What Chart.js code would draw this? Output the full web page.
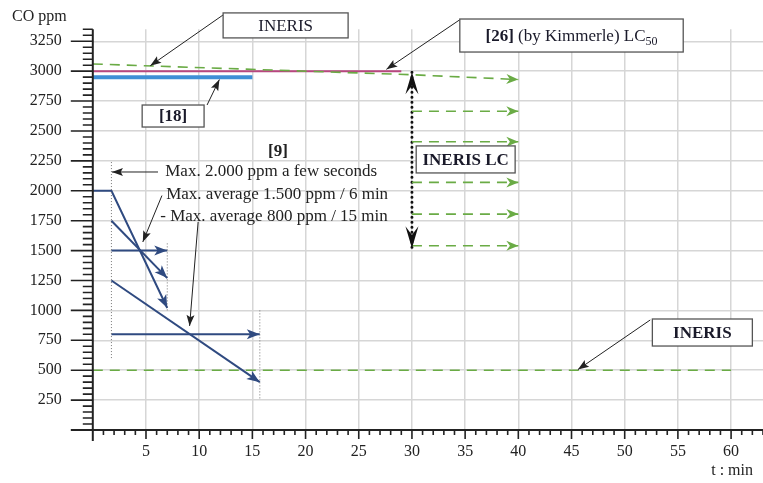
<!DOCTYPE html>
<html>
<head>
<meta charset="utf-8">
<script src="https://cdn.jsdelivr.net/npm/chart.js@4.4.0/dist/chart.umd.min.js"></script>
<style>
html, body { margin: 0; padding: 0; background: #fff; }
</style>
</head>
<body>
<canvas id="chart" width="763" height="483"></canvas>
<script>
// axis ticks
const xTicks = [5, 10, 15, 20, 25, 30, 35, 40, 45, 50, 55, 60];
const yTicks = [250, 500, 750, 1000, 1250, 1500, 1750, 2000, 2250, 2500, 2750, 3000, 3250];

// INERIS limit (top) and LC arrows, t in min, CO in ppm
const inerisTime = [0, 30, 40];
const inerisPpm = [3060, 2970, 2930];
const lcTime = [30, 40];
const lcLevels = [2665, 2410, 2070, 1805, 1540];
const lcRangeTime = [30, 30];
const lcRangePpm = [2990, 1520];

// [26] Kimmerle LC50 and [18]
const kimmerleTime = [0, 29];
const kimmerlePpm = [3000, 3000];
const ref18Time = [0, 15];
const ref18Ppm = [2950, 2950];

// INERIS low limit
const inerisLowTime = [0, 60];
const inerisLowPpm = [500, 500];

// [9] limits
const peakTime = [0, 1.75, 7];
const peakPpm = [2000, 2000, 1020];
const avg6Time = [1.75, 7];
const avg6SlopePpm = [1750, 1270];
const avg6FlatPpm = [1500, 1500];
const avg15Time = [1.75, 15.7];
const avg15SlopePpm = [1250, 400];
const avg15FlatPpm = [800, 800];

// dotted time markers
const markerTime = [1.75, 7, 15.7];
const markerTop = [2240, 1560, 1000];
const markerBottom = [585, 990, 250];

const serif = '"Liberation Serif", "Times New Roman", serif';
const green = '#6aab45';
const dark = '#2f4a80';

function series(xs, ys) {
    return xs.map((x, i) => ({x: x, y: ys[i]}));
}

const greenLine = {borderColor: green, borderWidth: 1.6, borderDash: [10, 7], arrow: 'end', head: [12, 5, 0.3, green]};
const darkLine = {borderColor: dark, borderWidth: 2, arrow: 'end', head: [13, 5, 0.25, dark]};

const datasets = [
    Object.assign({data: series(inerisTime, inerisPpm)}, greenLine),
    ...lcLevels.map(v => Object.assign({data: series(lcTime, [v, v])}, greenLine)),
    {data: series(inerisLowTime, inerisLowPpm), borderColor: green, borderWidth: 1.6, borderDash: [10, 7]},
    {data: series(kimmerleTime, kimmerlePpm), borderColor: '#b8477f', borderWidth: 2},
    {data: series(ref18Time, ref18Ppm), borderColor: '#3f8fd6', borderWidth: 4},
    ...markerTime.map((t, i) => ({data: series([t, t], [markerTop[i], markerBottom[i]]), borderColor: '#777', borderWidth: 1, borderDash: [1, 2]})),
    Object.assign({data: series(peakTime, peakPpm)}, darkLine),
    Object.assign({data: series(avg6Time, avg6SlopePpm)}, darkLine),
    Object.assign({data: series(avg6Time, avg6FlatPpm)}, darkLine),
    Object.assign({data: series(avg15Time, avg15SlopePpm)}, darkLine),
    Object.assign({data: series(avg15Time, avg15FlatPpm)}, darkLine),
    {data: series(lcRangeTime, lcRangePpm), borderColor: '#111', borderWidth: 3, borderDash: [0, 5],
        borderCapStyle: 'round', arrow: 'both', head: [22, 6.5, 0.4, '#111']},
];

// callouts, positioned in data units
const boxes = [
    {x0: 12.25, x1: 24.0, y0: 3487, y1: 3278, parts: [['INERIS', '']]},
    {x0: 34.5, x1: 55.5, y0: 3436, y1: 3160, parts: [['[26]', 'bold '], [' (by Kimmerle) LC', ''], ['50', 'sub']]},
    {x0: 4.64, x1: 10.46, y0: 2717, y1: 2533, parts: [['[18]', 'bold ']]},
    {x0: 30.4, x1: 39.7, y0: 2375, y1: 2149, parts: [['INERIS LC', 'bold ']]},
    {x0: 52.6, x1: 62.0, y0: 928, y1: 702, parts: [['INERIS', 'bold ']]},
];
const leaders = [
    [12.25, 3470, 5.4, 3045],
    [34.5, 3430, 27.6, 3015],
    [10.74, 2717, 11.9, 2930],
    [6.13, 2157, 1.8, 2157],
    [6.5, 1960, 4.7, 1572],
    [9.9, 1739, 9.1, 870],
    [52.4, 920, 45.6, 505],
];
const notes = [
    {x: 17.4, y: 2324, text: '[9]', font: 'bold ', align: 'center'},
    {x: 6.81, y: 2157, text: 'Max. 2.000 ppm a few seconds', font: '', align: 'left'},
    {x: 6.9, y: 1965, text: 'Max. average 1.500 ppm / 6 min', font: '', align: 'left'},
    {x: 6.34, y: 1781, text: '- Max. average 800 ppm / 15 min', font: '', align: 'left'},
];

function head(ctx, x0, y0, x1, y1, len, half, notch, color) {
    const a = Math.atan2(y1 - y0, x1 - x0);
    ctx.save();
    ctx.translate(x1, y1);
    ctx.rotate(a);
    ctx.beginPath();
    ctx.moveTo(0, 0);
    ctx.lineTo(-len, -half);
    ctx.lineTo(-len * (1 - notch), 0);
    ctx.lineTo(-len, half);
    ctx.closePath();
    ctx.fillStyle = color;
    ctx.fill();
    ctx.restore();
}

const arrowPlugin = {
    id: 'arrows',
    afterDatasetsDraw(chart) {
        const ctx = chart.ctx;
        chart.data.datasets.forEach((ds, i) => {
            if (!ds.arrow) return;
            const pts = chart.getDatasetMeta(i).data;
            const n = pts.length;
            const h = ds.head;
            head(ctx, pts[n - 2].x, pts[n - 2].y, pts[n - 1].x, pts[n - 1].y, h[0], h[1], h[2], h[3]);
            if (ds.arrow === 'both') {
                head(ctx, pts[1].x, pts[1].y, pts[0].x, pts[0].y, h[0], h[1], h[2], h[3]);
            }
        });
    }
};

const decorPlugin = {
    id: 'decor',
    afterDraw(chart) {
        const ctx = chart.ctx;
        const sx = chart.scales.x, sy = chart.scales.y;
        const X = v => sx.getPixelForValue(v);
        const Y = v => sy.getPixelForValue(v);
        const a = chart.chartArea;
        ctx.save();

        // axes with minor ticks
        ctx.strokeStyle = '#222';
        ctx.lineWidth = 2;
        ctx.beginPath();
        ctx.moveTo(a.left, a.top);
        ctx.lineTo(a.left, a.bottom + 11);
        ctx.moveTo(a.left - 22, a.bottom);
        ctx.lineTo(a.right, a.bottom);
        ctx.stroke();
        ctx.lineWidth = 1.6;
        ctx.beginPath();
        for (let v = 50; v <= 3350; v += 50) {
            const len = v % 250 === 0 ? 22 : 10;
            ctx.moveTo(a.left - len, Y(v));
            ctx.lineTo(a.left, Y(v));
        }
        for (let t = 1; t <= 63; t++) {
            const len = t % 5 === 0 ? 9 : 5;
            ctx.moveTo(X(t), a.bottom);
            ctx.lineTo(X(t), a.bottom + len);
        }
        ctx.stroke();

        // axis titles
        ctx.fillStyle = '#222';
        ctx.font = '16px ' + serif;
        ctx.textBaseline = 'middle';
        ctx.textAlign = 'left';
        ctx.fillText('CO ppm', 12, 17);
        ctx.textAlign = 'right';
        ctx.fillText('t : min', 753, 471);

        // leader arrows
        ctx.strokeStyle = '#222';
        ctx.lineWidth = 1;
        leaders.forEach(l => {
            const x0 = X(l[0]), y0 = Y(l[1]), x1 = X(l[2]), y1 = Y(l[3]);
            ctx.beginPath();
            ctx.moveTo(x0, y0);
            ctx.lineTo(x1, y1);
            ctx.stroke();
            head(ctx, x0, y0, x1, y1, 11, 4, 0.2, '#222');
        });

        // callout boxes
        boxes.forEach(b => {
            const x0 = X(b.x0), x1 = X(b.x1), y0 = Y(b.y0), y1 = Y(b.y1);
            ctx.fillStyle = '#fff';
            ctx.fillRect(x0, y0, x1 - x0, y1 - y0);
            ctx.strokeStyle = '#555';
            ctx.lineWidth = 1.3;
            ctx.strokeRect(x0, y0, x1 - x0, y1 - y0);
            let w = 0;
            b.parts.forEach(p => {
                ctx.font = p[1] === 'sub' ? '12px ' + serif : p[1] + '17px ' + serif;
                w += ctx.measureText(p[0]).width;
            });
            let cx = (x0 + x1) / 2 - w / 2;
            const cy = (y0 + y1) / 2 + 1;
            ctx.fillStyle = '#1a1a2a';
            ctx.textAlign = 'left';
            b.parts.forEach(p => {
                ctx.font = p[1] === 'sub' ? '12px ' + serif : p[1] + '17px ' + serif;
                ctx.fillText(p[0], cx, p[1] === 'sub' ? cy + 5 : cy);
                cx += ctx.measureText(p[0]).width;
            });
        });

        // [9] notes
        notes.forEach(n => {
            ctx.font = n.font + '17px ' + serif;
            ctx.textAlign = n.align;
            ctx.fillStyle = '#222';
            ctx.fillText(n.text, X(n.x), Y(n.y));
        });
        ctx.restore();
    }
};

new Chart(document.getElementById('chart'), {
    type: 'line',
    data: {datasets: datasets},
    options: {
        responsive: false,
        animation: false,
        events: [],
        layout: {padding: {top: 29.3, left: 0, right: 0, bottom: 0}},
        elements: {point: {radius: 0}, line: {tension: 0, fill: false}},
        plugins: {legend: {display: false}, tooltip: {enabled: false}},
        scales: {
            x: {
                type: 'linear', min: 0, max: 63,
                afterBuildTicks: s => { s.ticks = xTicks.map(v => ({value: v})); },
                afterFit: s => { s.height = 53; s.paddingLeft = 0; s.paddingRight = 0; },
                grid: {color: '#d6d6d6', lineWidth: 1.5, drawTicks: false},
                border: {display: false},
                ticks: {padding: 12, color: '#222', font: {family: serif, size: 16}, maxRotation: 0, callback: v => String(v)}
            },
            y: {
                type: 'linear', min: 0, max: 3350,
                afterBuildTicks: s => { s.ticks = yTicks.map(v => ({value: v})); },
                afterFit: s => { s.width = 92.8; s.paddingTop = 0; s.paddingBottom = 0; },
                grid: {color: '#d6d6d6', lineWidth: 1.5, drawTicks: false},
                border: {display: false},
                ticks: {padding: 31, color: '#222', font: {family: serif, size: 16}, callback: v => String(v)}
            }
        }
    },
    plugins: [arrowPlugin, decorPlugin]
});
</script>
</body>
</html>
